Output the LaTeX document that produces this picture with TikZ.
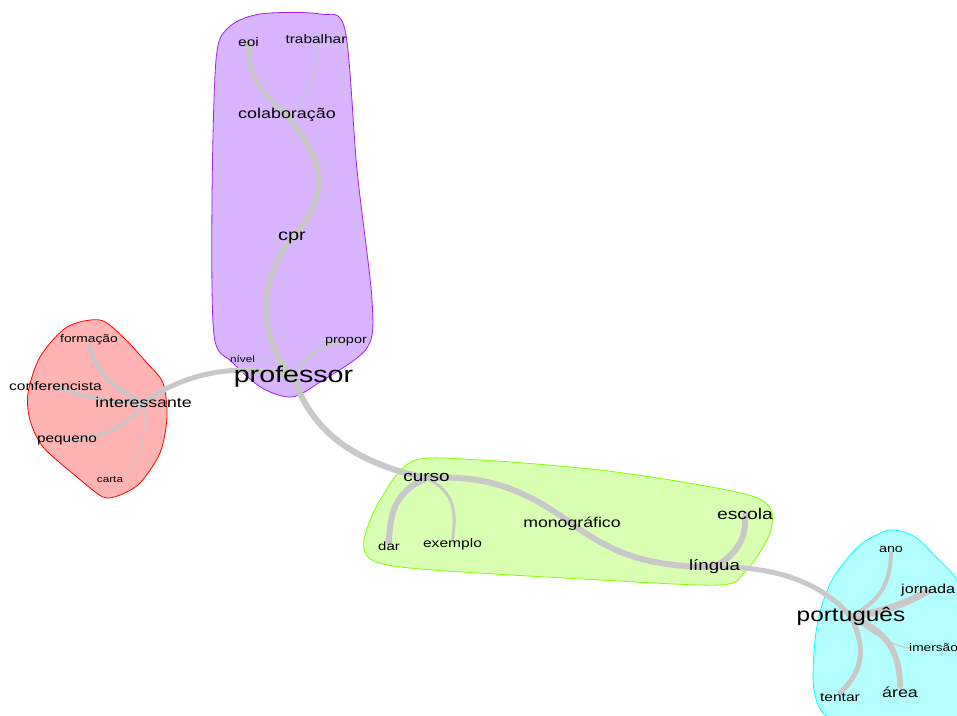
\documentclass[tikz,border=0pt]{standalone}
\usepackage{fontspec}
\setmainfont{Liberation Sans}
\pgfdeclarelayer{hull}
\pgfdeclarelayer{links}
\pgfsetlayers{hull,links,main}
\definecolor{linkgray}{RGB}{200,200,200}
\definecolor{purplefill}{RGB}{217,180,255}
\definecolor{purpleline}{RGB}{160,32,240}
\definecolor{redfill}{RGB}{255,179,179}
\definecolor{greenfill}{RGB}{217,255,179}
\definecolor{greenline}{RGB}{128,255,0}
\definecolor{cyanfill}{RGB}{179,255,255}
\definecolor{cyanline}{RGB}{0,255,255}
\newcommand{\wrd}[1]{\scalebox{1.25}[1]{#1}}
\newcommand{\wsize}[1]{\fontsize{#1}{#1}\selectfont}
\tikzset{word/.style={anchor=base,inner sep=0pt,text=black},
  link/.style={draw=linkgray,line cap=round},
  hullline/.style={line width=0.8bp,smooth cycle,tension=0.5}}
\begin{document}
\begin{tikzpicture}[line join=bevel,]
%%
\useasboundingbox (0bp,0bp) rectangle (957bp,716bp);
% words
\node (eoi) at (248.5bp,669bp) [word,font=\wsize{12.5}] {\wrd{eoi}};
  \node (trabalhar) at (316bp,672bp) [word,font=\wsize{12.4}] {\wrd{trabalhar}};
  \node (colaboracao) at (287bp,597bp) [word,font=\wsize{14.4}] {\wrd{colaboração}};
  \node (cpr) at (292bp,475bp) [word,font=\wsize{16}] {\wrd{cpr}};
  \node (propor) at (346bp,372bp) [word,font=\wsize{11.6}] {\wrd{propor}};
  \node (nivel) at (242.5bp,353bp) [word,font=\wsize{9.4}] {\wrd{nível}};
  \node (professor) at (293.5bp,333bp) [word,font=\wsize{23}] {\wrd{professor}};
  \node (formacao) at (89bp,373bp) [word,font=\wsize{11.1}] {\wrd{formação}};
  \node (conferencista) at (55.5bp,325bp) [word,font=\wsize{12.5}] {\wrd{conferencista}};
  \node (interessante) at (143.5bp,308bp) [word,font=\wsize{14.2}] {\wrd{interessante}};
  \node (pequeno) at (67bp,273bp) [word,font=\wsize{12.3}] {\wrd{pequeno}};
  \node (carta) at (110bp,233bp) [word,font=\wsize{9.4}] {\wrd{carta}};
  \node (curso) at (426.5bp,234bp) [word,font=\wsize{15.2}] {\wrd{curso}};
  \node (dar) at (389bp,165bp) [word,font=\wsize{12}] {\wrd{dar}};
  \node (exemplo) at (452.5bp,168bp) [word,font=\wsize{12.5}] {\wrd{exemplo}};
  \node (monografico) at (572bp,188bp) [word,font=\wsize{14.2}] {\wrd{monográfico}};
  \node (escola) at (745bp,196bp) [word,font=\wsize{15.5}] {\wrd{escola}};
  \node (lingua) at (714.5bp,145bp) [word,font=\wsize{15}] {\wrd{língua}};
  \node (portugues) at (851bp,94bp) [word,font=\wsize{19.6}] {\wrd{português}};
  \node (ano) at (891bp,163bp) [word,font=\wsize{11.5}] {\wrd{ano}};
  \node (jornada) at (901bp,122bp) [word,anchor=base west,font=\wsize{13}] {\wrd{jornada}};
  \node (imersao) at (909bp,64bp) [word,anchor=base west,font=\wsize{11}] {\wrd{imersão}};
  \node (tentar) at (840bp,15bp) [word,font=\wsize{12.5}] {\wrd{tentar}};
  \node (area) at (900bp,19bp) [word,font=\wsize{14.4}] {\wrd{área}};
% links
\begin{pgfonlayer}{links}
  \draw [link,line width=5bp] (eoi.center) ..controls (247bp,636bp) and (265bp,621bp)  .. (colaboracao.center);
  \draw [link,line width=1.2bp] (trabalhar.center) ..controls (322bp,646bp) and (305bp,616bp)  .. (colaboracao.center);
  \draw [link,line width=6bp] (colaboracao.center) ..controls (305bp,576bp) and (345bp,536bp)  .. (cpr.center);
  \draw [link,line width=6bp] (cpr.center) ..controls (265bp,446bp) and (250bp,386bp)  .. (professor.center);
  \draw [link,line width=3bp] (propor.center) ..controls (315bp,371bp) and (303bp,356bp)  .. (professor.center);
  \draw [link,line width=1.2bp] (nivel.center) ..controls (265bp,359bp) and (285bp,354bp)  .. (professor.center);
  \draw [link,line width=5bp] (professor.center) ..controls (240bp,354bp) and (185bp,344bp)  .. (interessante.center);
  \draw [link,line width=6bp] (professor.center) ..controls (308bp,296bp) and (340bp,256bp)  .. (curso.center);
  \draw [link,line width=6bp] (curso.center) ..controls (480bp,241bp) and (520bp,231bp)  .. (monografico.center);
  \draw [link,line width=6bp] (monografico.center) ..controls (610bp,166bp) and (640bp,149bp)  .. (lingua.center);
  \draw [link,line width=6bp] (curso.center) ..controls (400bp,226bp) and (390bp,211bp)  .. (dar.north);
  \draw [link,line width=3bp] (curso.center) ..controls (450bp,226bp) and (458bp,211bp)  .. (exemplo.north);
  \draw [link,line width=6bp] (escola.center) ..controls (747bp,176bp) and (735bp,161bp)  .. (lingua.center);
  \draw [link,line width=5bp] (lingua.center) ..controls (770bp,150bp) and (820bp,136bp)  .. (portugues.center);
  \draw [link,line width=4bp] (portugues.center) ..controls (880bp,116bp) and (890bp,131bp)  .. (ano.south);
  \draw [link,line width=7bp] (portugues.center) ..controls (880bp,104bp) and (905bp,111bp)  .. (jornada.center);
  \draw [link,line width=1.2bp] (portugues.center) ..controls (875bp,81bp) and (890bp,71bp)  .. (imersao.west);
  \draw [link,line width=6bp] (portugues.center) ..controls (885bp,86bp) and (900bp,66bp)  .. (area.north);
  \draw [link,line width=5bp] (portugues.center) ..controls (865bp,71bp) and (865bp,46bp)  .. (tentar.north);
  \draw [link,line width=4bp] (formacao.south) ..controls (95bp,344bp) and (115bp,326bp)  .. (interessante.center);
  \draw [link,line width=4bp] (conferencista.center) ..controls (75bp,323bp) and (95bp,314bp)  .. (interessante.center);
  \draw [link,line width=3bp] (pequeno.center) ..controls (110bp,281bp) and (130bp,291bp)  .. (interessante.center);
  \draw [link,line width=1.2bp] (interessante.center) ..controls (147bp,276bp) and (140bp,261bp)  .. (carta.north east);
\end{pgfonlayer}
% clusters
\begin{pgfonlayer}{hull}
  \fill[white] (0bp,0bp) rectangle (957bp,716bp);
  \draw [hullline,fill=purplefill,draw=purpleline] plot coordinates {(228bp,688bp) (260bp,702bp) (320bp,702bp) (345bp,686bp) (357bp,546bp) (372bp,416bp) (367bp,368bp) (320bp,334bp) (292bp,319bp) (262bp,328bp) (232bp,354bp) (214bp,381bp) (212bp,516bp) (216bp,656bp)};
  \draw [hullline,fill=redfill,draw=red] plot coordinates {(67bp,389bp) (100bp,396bp) (123bp,379bp) (147bp,353bp) (163bp,333bp) (167bp,299bp) (160bp,263bp) (140bp,233bp) (120bp,221bp) (103bp,219bp) (77bp,239bp) (43bp,269bp) (30bp,296bp) (28bp,323bp) (40bp,359bp)};
  \draw [hullline,fill=greenfill,draw=greenline] plot coordinates {(413bp,255bp) (480bp,256bp) (600bp,246bp) (700bp,231bp) (755bp,219bp) (772bp,204bp) (768bp,178bp) (745bp,144bp) (720bp,131bp) (600bp,136bp) (420bp,147bp) (372bp,156bp) (364bp,176bp) (380bp,216bp)};
  \draw [hullline,fill=cyanfill,draw=cyanline] plot coordinates {(890bp,186bp) (915bp,179bp) (935bp,160bp) (960bp,131bp) (975bp,76bp) (980bp,-4bp) (900bp,-19bp) (830bp,-2bp) (814bp,26bp) (815bp,76bp) (822bp,111bp) (835bp,141bp) (860bp,171bp)};
\end{pgfonlayer}
%
\end{tikzpicture}
\end{document}
